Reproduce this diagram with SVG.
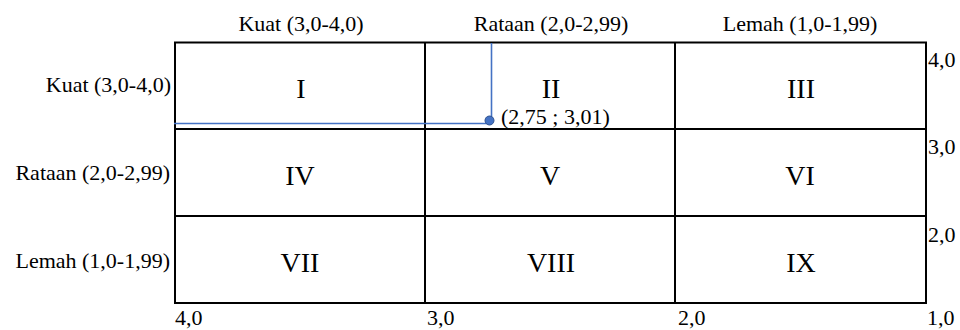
<svg xmlns="http://www.w3.org/2000/svg" width="960" height="330" viewBox="0 0 960 330">
<style>
.lbl{font-family:"Liberation Serif","Times New Roman",serif;font-size:22px;fill:#000}
.num{font-family:"Liberation Serif","Times New Roman",serif;font-size:28px;fill:#000;text-anchor:middle}
.grid{stroke:#000;stroke-width:2;fill:none}
.blue{stroke:#4472C4;stroke-width:1.6;fill:none}
</style>
<rect width="960" height="330" fill="#fff"/>
<g id="axis-labels">
<text class="lbl" x="301" y="31" text-anchor="middle">Kuat (3,0-4,0)</text>
<text class="lbl" x="551" y="31" text-anchor="middle">Rataan (2,0-2,99)</text>
<text class="lbl" x="800" y="31" text-anchor="middle">Lemah (1,0-1,99)</text>
<text class="lbl" x="171" y="92" text-anchor="end">Kuat (3,0-4,0)</text>
<text class="lbl" x="170" y="180" text-anchor="end">Rataan (2,0-2,99)</text>
<text class="lbl" x="170" y="268" text-anchor="end">Lemah (1,0-1,99)</text>
<text class="lbl" x="928" y="67">4,0</text>
<text class="lbl" x="928" y="154">3,0</text>
<text class="lbl" x="928" y="242">2,0</text>
<text class="lbl" x="927" y="325">1,0</text>
<text class="lbl" x="175" y="325">4,0</text>
<text class="lbl" x="427" y="325">3,0</text>
<text class="lbl" x="678" y="325">2,0</text>
</g>
<g id="grid">
<rect class="grid" x="175" y="42.5" width="751" height="260.5"/>
<line class="grid" x1="175" y1="129" x2="926" y2="129"/>
<line class="grid" x1="175" y1="216" x2="926" y2="216"/>
<line class="grid" x1="425" y1="42.5" x2="425" y2="303"/>
<line class="grid" x1="675" y1="42.5" x2="675" y2="303"/>
</g>
<g id="cell-I"><text class="num" x="301" y="98">I</text></g>
<g id="cell-II"><text class="num" x="551" y="98">II</text></g>
<g id="cell-III"><text class="num" x="801" y="98">III</text></g>
<g id="cell-IV"><text class="num" x="300" y="185">IV</text></g>
<g id="cell-V"><text class="num" x="550" y="185">V</text></g>
<g id="cell-VI"><text class="num" x="800" y="185">VI</text></g>
<g id="cell-VII"><text class="num" x="300" y="272">VII</text></g>
<g id="cell-VIII"><text class="num" x="551" y="272">VIII</text></g>
<g id="cell-IX"><text class="num" x="801" y="272">IX</text></g>
<g id="connectors">
<line class="blue" x1="174" y1="123.5" x2="489" y2="123.5"/>
<line class="blue" x1="491.5" y1="43" x2="491.5" y2="120"/>
</g>
<g id="point">
<circle cx="489.5" cy="120.5" r="4.5" fill="#4472C4" stroke="#2F528F" stroke-width="1"/>
<text class="lbl" x="501" y="124">(2,75 ; 3,01)</text>
</g>
</svg>
